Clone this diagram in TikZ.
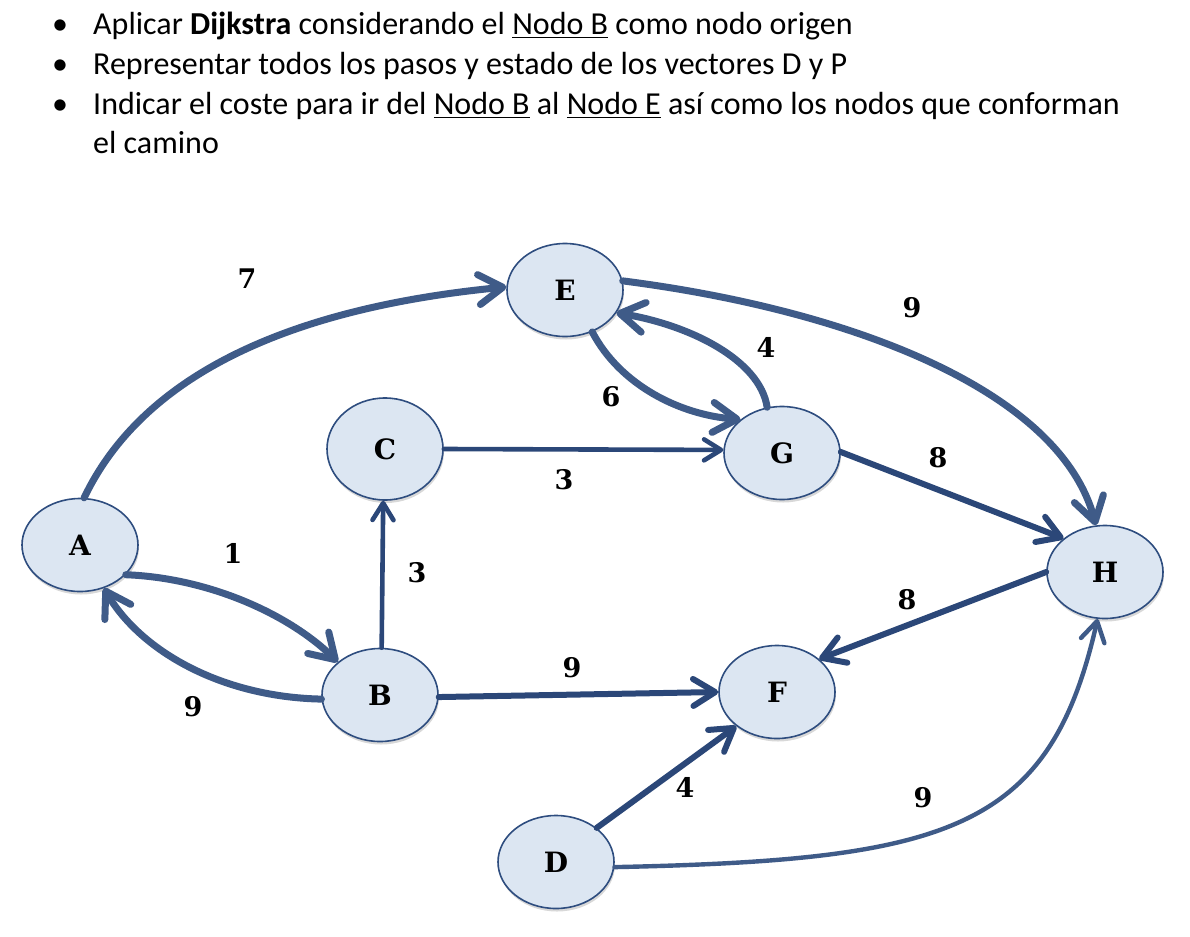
\documentclass[tikz,border=0pt]{standalone}
\usepackage{fontspec}
\setmainfont{Carlito}
\newfontfamily\lblfont{DejaVu Serif}
\usetikzlibrary{arrows.meta,shapes.geometric,shadows}
\definecolor{edgeA}{HTML}{3F5B88}
\definecolor{edgeB}{HTML}{2B4778}
\definecolor{nodefill}{HTML}{DCE6F2}
\definecolor{nodeline}{HTML}{2E4D7F}
\newcommand\myul[1]{\setbox0\hbox{#1}\rlap{\rule[-3.5pt]{\wd0}{1.6pt}}\box0\relax}
\newcommand\vlet[1]{{\lblfont\bfseries\fontsize{28}{28}\selectfont #1}}
\tikzset{
  vtx/.style={ellipse, draw=nodeline, line width=1.6pt, fill=nodefill,
    minimum width=116pt, minimum height=93pt, inner sep=0pt,
    drop shadow={shadow xshift=1pt, shadow yshift=-3pt, opacity=0.22, fill=black!70}},
  wlbl/.style={font=\lblfont\bfseries\fontsize{27}{27}\selectfont, inner sep=0pt},
  toptext/.style={anchor=base west, inner sep=0pt, font=\fontsize{32}{38}\selectfont},
  thickedge/.style={draw=edgeA, line width=7pt, line cap=round,
    -{Straight Barb[length=24pt,width=30pt,round]}},
  midedge/.style={draw=edgeB, line width=6pt, line cap=round,
    -{Straight Barb[length=22pt,width=27pt,round]}},
  smalledge/.style={draw=edgeB, line width=4.6pt, line cap=round,
    -{Straight Barb[length=17pt,width=21pt,round]}},
  thinedge/.style={draw=edgeA, line width=4.4pt, line cap=round,
    -{Straight Barb[length=20pt,width=24pt,round]}},
}
\begin{document}
\begin{tikzpicture}[x=1pt,y=-1pt]
\useasboundingbox (0,0) rectangle (1190,936);
% header text
\node[toptext] (b1) at (52,35) {\textbullet};
\node[toptext] (t1) at (93,35) {Aplicar \textbf{Dijkstra} considerando el \myul{Nodo B} como nodo origen};
\node[toptext] (b2) at (52,75) {\textbullet};
\node[toptext] (t2) at (93,75) {Representar todos los pasos y estado de los vectores D y P};
\node[toptext] (b3) at (52,115) {\textbullet};
\node[toptext] (t3) at (93,115) {Indicar el coste para ir del \myul{Nodo B} al \myul{Nodo E} así como los nodos que conforman};
\node[toptext] (t4) at (93,154) {el camino};
% vertices
\node[vtx] (A) at (80,545) {\vlet{A}};
\node[vtx] (B) at (380,695) {\vlet{B}};
\node[vtx, minimum height=102pt] (C) at (385,449) {\vlet{C}};
\node[vtx] (E) at (565,290) {\vlet{E}};
\node[vtx] (G) at (782,453) {\vlet{G}};
\node[vtx] (H) at (1105,572) {\vlet{H}};
\node[vtx] (F) at (777,692) {\vlet{F}};
\node[vtx] (D) at (556,862) {\vlet{D}};
% edges
\draw[thickedge] (A.85) .. controls (150,360) and (320,305) .. (E.177);
\draw[thickedge] (E.9) .. controls (850,310) and (1060,390) .. (H.101);
\draw[thickedge] (E.-57) .. controls (620,385) and (680,415) .. (G.141);
\draw[thickedge] (G.108) .. controls (760,360) and (690,325) .. (E.-24);
\draw[thickedge] (A.-33) .. controls (210,578) and (290,615) .. (B.142);
\draw[thickedge] (B.184) .. controls (220,697) and (140,650) .. (A.-61);
\draw[thinedge] (D.-5) .. controls (950,860) and (1050,830) .. (H.261);
\draw[smalledge] (C.0) -- (G.177);
\draw[smalledge] (B.88) -- (C.268);
\draw[midedge] (G.1) -- (H.141);
\draw[midedge] (H.180) -- (F.38);
\draw[midedge] (B.-2) -- (F.180);
\draw[midedge] (D.40) -- (F.220);
% weights
\node[wlbl] (w1) at (247,279) {7};
\node[wlbl] (w2) at (912,308) {9};
\node[wlbl] (w3) at (766,347) {4};
\node[wlbl] (w4) at (611,397) {6};
\node[wlbl] (w5) at (564,480) {3};
\node[wlbl] (w6) at (938,458) {8};
\node[wlbl] (w7) at (233,553) {1};
\node[wlbl] (w8) at (417,573) {3};
\node[wlbl] (w9) at (907,600) {8};
\node[wlbl] (w10) at (572,668) {9};
\node[wlbl] (w11) at (193,707) {9};
\node[wlbl] (w12) at (685,787) {4};
\node[wlbl] (w13) at (923,798) {9};
\end{tikzpicture}
\end{document}
